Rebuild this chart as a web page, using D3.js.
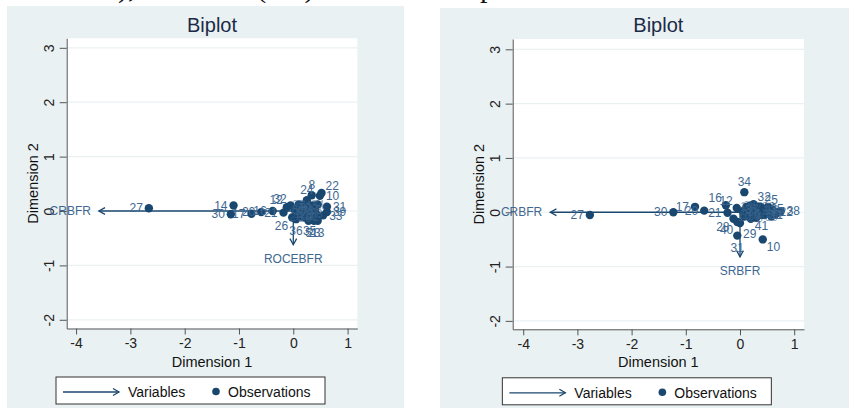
<!DOCTYPE html>
<html>
<head>
<meta charset="utf-8">
<script src="https://cdn.jsdelivr.net/npm/d3@7"></script>
<style>
  body { margin: 0; background: #fff; }
  svg { display: block; font-family: "Liberation Sans", Arial, sans-serif; }
</style>
</head>
<body>
<svg width="849" height="409"></svg>
<script>
// tick values shared by both biplots
const xTicks = [-4, -3, -2, -1, 0, 1];
const yTicks = [-2, -1, 0, 1, 2, 3];

// left biplot: CRBFR / ROCEBFR
const obsLabelsA = [27, 14, 30, 17, 20, 16, 21, 12, 32, 6, 1, 2, 3, 4, 7, 8, 24, 9, 10, 22, 11, 13, 15, 18, 19, 23, 25, 26, 28, 29, 31, 33, 34, 35, 36, 37, 38, 39, 40, 41, 5];
const obsXA = [-2.66, -1.10, -1.15, -0.77, -0.59, -0.38, -0.18, -0.12, -0.05, 0.03, 0.08, 0.12, 0.15, 0.18, 0.20, 0.34, 0.25, 0.28, 0.49, 0.52, 0.30, 0.45, 0.35, 0.40, 0.22, 0.38, 0.10, -0.02, 0.05, 0.25, 0.62, 0.55, 0.45, 0.30, 0.05, 0.15, 0.42, 0.62, 0.20, 0.35, 0.28];
const obsYA = [0.05, 0.10, -0.06, -0.05, -0.02, 0.00, -0.03, 0.07, 0.10, 0.02, -0.05, 0.05, -0.10, 0.10, -0.02, 0.29, 0.20, 0.05, 0.28, 0.33, -0.08, -0.18, 0.10, 0.02, -0.12, -0.18, 0.12, -0.12, -0.10, -0.05, 0.08, -0.08, 0.12, -0.15, -0.15, 0.00, -0.05, -0.02, 0.05, -0.10, -0.18];
const labelPosA = [9, 9, 9, 9, 9, 9, 9, 11, 11, 0, 0, 0, 0, 0, 0, 12, 12, 0, 3, 1, 0, 6, 0, 0, 0, 6, 0, 7, 0, 0, 3, 3, 0, 6, 6, 0, 0, 3, 0, 0, 6];
const varNamesA = ['CRBFR', 'ROCEBFR'];
const varXA = [-3.58, 0.0];
const varYA = [0.0, -0.62];
const varPosA = [9, 6];

// right biplot: CRBFR / SRBFR
const obsLabelsB = [27, 30, 17, 20, 21, 16, 12, 34, 31, 10, 28, 40, 29, 41, 11, 35, 25, 32, 22, 1, 2, 3, 4, 5, 6, 7, 8, 9, 13, 14, 15, 18, 19, 23, 24, 26, 33, 36, 37, 38, 39];
const obsXB = [-2.77, -1.23, -0.83, -0.66, -0.23, -0.26, -0.06, 0.08, -0.05, 0.42, -0.12, -0.05, 0.00, 0.20, 0.45, 0.45, 0.38, 0.25, 0.62, 0.05, 0.10, 0.15, 0.20, 0.28, 0.32, 0.35, 0.50, 0.55, 0.60, 0.12, 0.70, 0.25, 0.08, 0.65, 0.18, 0.30, 0.52, 0.40, 0.22, 0.75, 0.58];
const obsYB = [-0.05, 0.00, 0.10, 0.03, -0.01, 0.13, 0.08, 0.37, -0.43, -0.50, -0.12, -0.18, -0.20, -0.12, -0.05, 0.06, 0.10, 0.15, 0.00, 0.02, -0.05, 0.05, -0.02, 0.05, -0.02, 0.10, 0.02, -0.03, 0.05, 0.10, 0.00, -0.06, -0.08, -0.04, 0.12, -0.10, 0.10, -0.05, 0.06, 0.02, -0.08];
const labelPosB = [9, 9, 9, 9, 9, 11, 11, 12, 6, 4, 7, 7, 5, 4, 3, 3, 1, 1, 3, 0, 0, 0, 0, 0, 0, 0, 0, 0, 0, 0, 0, 0, 0, 0, 0, 0, 0, 0, 0, 3, 0];
const varNamesB = ['CRBFR', 'SRBFR'];
const varXB = [-3.50, 0.0];
const varYB = [0.0, -0.82];
const varPosB = [9, 6];

const navy = '#1a476f';
const labColor = '#3e6891';
const bgColor = '#eaf1f3';

const svg = d3.select('svg');

// clipped line of body text above the figure
svg.append('text')
    .attr('x', 472).attr('y', -3)
    .attr('text-anchor', 'end')
    .style('font-family', '"Liberation Serif", "Times New Roman", serif')
    .style('font-size', '30px')
    .attr('fill', '#111')
    .text('BF), and after (AF) of the Covid');
svg.append('text')
    .attr('x', 480).attr('y', -3)
    .style('font-family', '"Liberation Serif", "Times New Roman", serif')
    .style('font-size', '30px')
    .attr('fill', '#111')
    .text('pandemic.');

// clock position -> label offset
const clock = {
  0: [0, 0, 'middle'],
  1: [4, -7, 'start'],
  3: [6, 0, 'start'],
  4: [4, 7, 'start'],
  5: [3, 11, 'start'],
  6: [0, 12, 'middle'],
  7: [-4, 8, 'end'],
  8: [-5, 5, 'end'],
  9: [-6, 0, 'end'],
  11: [-4, -7, 'end'],
  12: [0, -10, 'middle']
};

const drawPanel = p => {
  const g = svg.append('g');

  g.append('rect')
      .attr('x', p.bg[0]).attr('y', p.bg[1])
      .attr('width', p.bg[2] - p.bg[0]).attr('height', p.bg[3] - p.bg[1])
      .attr('fill', bgColor);

  g.append('rect')
      .attr('x', p.x0).attr('y', p.y0)
      .attr('width', p.x1 - p.x0).attr('height', p.y1 - p.y0)
      .attr('fill', '#fff');

  const xScale = d3.scaleLinear().domain(p.xDom).range([p.x0, p.x1]);
  const yScale = d3.scaleLinear().domain(p.yDom).range([p.y1, p.y0]);

  // horizontal grid
  g.selectAll('.grid').data(yTicks)
    .enter().append('line')
      .attr('x1', p.x0).attr('x2', p.x1)
      .attr('y1', d => yScale(d)).attr('y2', d => yScale(d))
      .attr('stroke', bgColor)
      .attr('stroke-width', 1.2);

  const xAxisG = g.append('g')
      .attr('transform', `translate(0,${p.y1})`)
      .call(d3.axisBottom(xScale).tickValues(xTicks).tickSize(6).tickSizeOuter(0)
        .tickPadding(4).tickFormat(d => String(d)));

  const yAxisG = g.append('g')
      .attr('transform', `translate(${p.x0},0)`)
      .call(d3.axisLeft(yScale).tickValues(yTicks).tickSize(7).tickSizeOuter(0)
        .tickFormat(d => String(d)));

  [xAxisG, yAxisG].forEach(a => {
    a.selectAll('.domain').attr('stroke', '#555');
    a.selectAll('.tick line').attr('stroke', '#555');
    a.selectAll('text')
        .attr('fill', '#222')
        .style('font-size', '14px')
        .style('font-family', '"Liberation Sans", Arial, sans-serif');
  });

  yAxisG.selectAll('text')
      .attr('transform', 'rotate(-90)')
      .attr('x', 0).attr('y', -13).attr('dy', 0)
      .attr('text-anchor', 'middle');

  // variable arrows
  const arrowLine = d3.line();
  p.varX.forEach((vx, i) => {
    const x0 = xScale(0), y0 = yScale(0);
    const x1 = xScale(vx), y1 = yScale(p.varY[i]);
    const a = Math.atan2(y1 - y0, x1 - x0);
    const L = 7, w = 0.5;
    g.append('path')
        .attr('d', arrowLine([[x0, y0], [x1, y1]]))
        .attr('stroke', navy).attr('stroke-width', 1.3).attr('fill', 'none');
    g.append('path')
        .attr('d', arrowLine([
          [x1 - L * Math.cos(a - w), y1 - L * Math.sin(a - w)],
          [x1, y1],
          [x1 - L * Math.cos(a + w), y1 - L * Math.sin(a + w)]
        ]))
        .attr('stroke', navy).attr('stroke-width', 1.3).attr('fill', 'none');
  });

  // observations
  g.selectAll('.obs').data(p.obsX)
    .enter().append('circle')
      .attr('cx', d => xScale(d))
      .attr('cy', (d, i) => yScale(p.obsY[i]))
      .attr('r', 4.2)
      .attr('fill', navy);

  g.selectAll('.obslab').data(p.obsLabels)
    .enter().append('text')
      .attr('x', (d, i) => xScale(p.obsX[i]) + clock[p.labelPos[i]][0])
      .attr('y', (d, i) => yScale(p.obsY[i]) + clock[p.labelPos[i]][1])
      .attr('dy', '0.35em')
      .attr('text-anchor', (d, i) => clock[p.labelPos[i]][2])
      .attr('fill', labColor)
      .attr('fill-opacity', (d, i) => p.labelPos[i] === 0 ? 0.55 : 1)
      .style('font-size', '12px')
      .text(d => d);

  p.varNames.forEach((name, i) => {
    const c = p.varPos[i] === 9 ? [-8, 0, 'end'] : [0, 14, 'middle'];
    g.append('text')
        .attr('x', xScale(p.varX[i]) + c[0])
        .attr('y', yScale(p.varY[i]) + c[1])
        .attr('dy', '0.35em')
        .attr('text-anchor', c[2])
        .attr('fill', labColor)
        .style('font-size', '12px')
        .text(name);
  });

  const cx = (p.x0 + p.x1) / 2;
  const cy = (p.y0 + p.y1) / 2;

  g.append('text')
      .attr('x', cx).attr('y', 32)
      .attr('text-anchor', 'middle')
      .attr('fill', '#1b2a47')
      .style('font-size', '20px')
      .text('Biplot');

  g.append('text')
      .attr('x', cx).attr('y', p.y1 + 38)
      .attr('text-anchor', 'middle')
      .attr('fill', '#111')
      .style('font-size', '14.5px')
      .text('Dimension 1');

  g.append('text')
      .attr('transform', `translate(${p.x0 - 29},${cy}) rotate(-90)`)
      .attr('text-anchor', 'middle')
      .attr('fill', '#111')
      .style('font-size', '14.5px')
      .text('Dimension 2');

  // legend
  const lg = g.append('g')
      .attr('transform', `translate(${cx - 156},${p.y1 + 48.5})`);
  lg.append('rect')
      .attr('width', 269).attr('height', 27)
      .attr('fill', '#fff').attr('stroke', '#333').attr('stroke-width', 1);
  lg.append('path')
      .attr('d', arrowLine([[7, 15], [63, 15]]))
      .attr('stroke', navy).attr('stroke-width', 1.3);
  lg.append('path')
      .attr('d', arrowLine([[57, 11.5], [63, 15], [57, 18.5]]))
      .attr('stroke', navy).attr('stroke-width', 1.3).attr('fill', 'none');
  lg.append('text')
      .attr('x', 72).attr('y', 20)
      .attr('fill', '#111')
      .style('font-size', '14px')
      .text('Variables');
  lg.append('circle')
      .attr('cx', 160).attr('cy', 14.5).attr('r', 3.8)
      .attr('fill', navy);
  lg.append('text')
      .attr('x', 172).attr('y', 20)
      .attr('fill', '#111')
      .style('font-size', '14px')
      .text('Observations');
};

drawPanel({
  bg: [7, 6, 404, 408],
  x0: 66.7, x1: 357.3, y0: 38.3, y1: 328.5,
  xDom: [-4.173, 1.179], yDom: [-2.16, 3.175],
  obsLabels: obsLabelsA, obsX: obsXA, obsY: obsYA, labelPos: labelPosA,
  varNames: varNamesA, varX: varXA, varY: varYA, varPos: varPosA
});

drawPanel({
  bg: [440, 8, 849, 408],
  x0: 512.7, x1: 804, y0: 39, y1: 329.3,
  xDom: [-4.194, 1.181], yDom: [-2.155, 3.19],
  obsLabels: obsLabelsB, obsX: obsXB, obsY: obsYB, labelPos: labelPosB,
  varNames: varNamesB, varX: varXB, varY: varYB, varPos: varPosB
});
</script>
</body>
</html>
